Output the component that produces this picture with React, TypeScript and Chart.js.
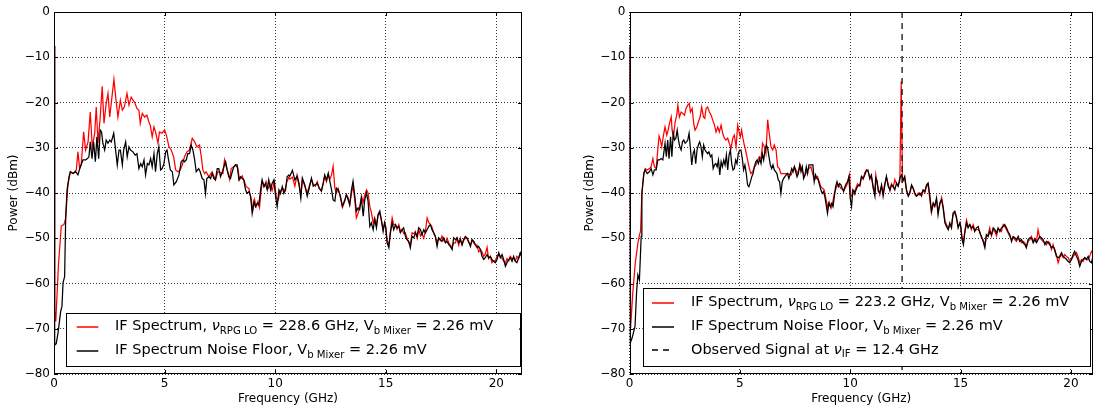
import React, { useEffect, useRef } from 'react';
import { Chart, registerables } from 'chart.js';

Chart.register(...registerables);

const FONT = '"DejaVu Sans", sans-serif';

// ---------------- DATA (frequency in GHz, power in dBm) ----------------
const xTicks = [0, 5, 10, 15, 20];
const yTicks = [-80, -70, -60, -50, -40, -30, -20, -10, 0];
const leftXMax = 21.16;
const rightXMax = 21.0;
const observedSignalFreq = 12.35;

const leftSignal: [number, number][] = [
  [0, -7.5], [0.03, -66], [0.08, -68.4], [0.2, -56], [0.33, -47.3], [0.45, -47], [0.53, -45.5], [0.63, -38.2], [0.74, -35.3],
  [0.86, -35.7], [1.01, -34.9], [1.08, -30.9], [1.16, -34.6], [1.23, -33.8], [1.34, -26.5], [1.43, -30.5], [1.54, -28.7],
  [1.64, -22.1], [1.73, -29.8], [1.84, -26.8], [1.91, -21.0], [1.99, -29.0], [2.09, -23.2], [2.18, -16.4], [2.26, -24.6],
  [2.36, -20.2], [2.44, -18.0], [2.52, -23.2], [2.62, -18.8], [2.71, -14.9], [2.79, -18.8], [2.89, -23.2], [3.0, -19.5],
  [3.09, -21.7], [3.18, -21.0], [3.3, -18.0], [3.39, -20.6], [3.49, -18.8], [3.57, -19.5], [3.64, -19.9], [3.75, -21.3],
  [3.84, -21.7], [3.9, -24.6], [3.99, -22.4], [4.1, -23.2], [4.2, -22.8], [4.29, -24.3], [4.35, -25.0], [4.44, -27.6],
  [4.52, -25.4], [4.59, -26.5], [4.7, -29.0], [4.77, -26.5], [4.88, -26.8], [5.0, -26.1], [5.08, -27.2], [5.2, -29.8],
  [5.3, -30.5], [5.41, -32.0], [5.5, -34.9], [5.6, -35.3], [5.71, -34.9], [5.8, -33.8], [5.9, -32.0], [6.01, -30.9],
  [6.13, -30.5], [6.25, -27.9], [6.36, -28.7], [6.46, -29.8], [6.58, -29.4], [6.66, -32.0], [6.73, -34.9], [6.81, -35.7],
  [6.88, -35.3], [7.0, -36.4], [7.15, -35.3], [7.3, -37.1], [7.41, -35.3], [7.53, -35.5], [7.64, -35.7], [7.71, -32.7],
  [7.83, -34.9], [7.94, -37.0], [8.01, -34.6], [8.13, -34.2], [8.21, -33.8], [8.31, -34.5], [8.39, -37.1], [8.51, -36.2],
  [8.61, -37.5], [8.69, -38.6], [8.81, -39.0], [8.92, -41.5], [8.99, -43.8], [9.07, -41.5], [9.14, -43.0], [9.22, -41.9],
  [9.29, -43.2], [9.41, -37.5], [9.52, -38.5], [9.59, -37.5], [9.68, -39.0], [9.77, -38.0], [9.86, -39.5], [9.97, -37.5],
  [10.05, -41.0], [10.14, -41.5], [10.23, -39.5], [10.35, -39.0], [10.44, -39.5], [10.53, -37.5], [10.62, -36.5],
  [10.66, -36.9], [10.78, -36.5], [10.89, -38.5], [10.99, -36.0], [11.08, -37.8], [11.16, -40.5], [11.23, -37.0],
  [11.34, -38.5], [11.45, -40.0], [11.54, -38.5], [11.64, -37.0], [11.72, -38.0], [11.82, -38.5], [11.9, -37.5],
  [11.99, -39.0], [12.09, -39.5], [12.17, -38.0], [12.24, -36.3], [12.32, -37.5], [12.4, -36.0], [12.47, -37.0],
  [12.55, -36.0], [12.62, -34.1], [12.7, -39.0], [12.77, -40.0], [12.85, -39.0], [12.95, -41.0], [13.04, -43.2],
  [13.15, -41.8], [13.22, -40.4], [13.3, -41.0], [13.37, -42.6], [13.45, -40.0], [13.52, -38.5], [13.6, -41.5],
  [13.67, -45.5], [13.75, -44.5], [13.82, -43.0], [13.9, -40.7], [13.98, -42.0], [14.05, -40.5], [14.13, -39.3],
  [14.2, -40.0], [14.28, -43.0], [14.35, -44.3], [14.43, -46.6], [14.5, -45.5], [14.58, -47.0], [14.65, -45.0],
  [14.73, -44.5], [14.8, -46.0], [14.88, -48.0], [14.95, -46.5], [15.0, -47.5], [15.06, -50.5], [15.14, -51.5],
  [15.21, -48.5], [15.29, -45.5], [15.36, -47.0], [15.44, -47.0], [15.51, -48.0], [15.59, -47.0], [15.66, -48.5],
  [15.74, -48.0], [15.81, -49.0], [15.89, -48.8], [15.96, -50.0], [16.04, -51.0], [16.11, -51.5], [16.19, -48.8],
  [16.27, -49.0], [16.34, -48.5], [16.42, -50.0], [16.49, -48.0], [16.57, -49.5], [16.64, -49.0], [16.72, -50.0],
  [16.79, -48.5], [16.87, -45.5], [16.94, -46.5], [17.02, -47.0], [17.09, -47.5], [17.17, -49.0], [17.24, -49.5],
  [17.32, -51.0], [17.39, -50.0], [17.47, -50.5], [17.54, -49.5], [17.62, -50.5], [17.7, -51.0], [17.77, -50.0],
  [17.85, -51.0], [17.92, -51.5], [18.0, -52.0], [18.07, -51.0], [18.15, -51.0], [18.22, -50.0], [18.3, -51.5],
  [18.37, -50.0], [18.45, -51.5], [18.52, -50.5], [18.6, -50.0], [18.67, -50.0], [18.75, -51.0], [18.83, -51.5],
  [18.9, -50.5], [18.98, -51.0], [19.05, -51.5], [19.13, -51.5], [19.2, -53.0], [19.28, -52.5], [19.35, -53.0],
  [19.43, -54.0], [19.5, -53.5], [19.58, -52.0], [19.65, -54.5], [19.73, -54.0], [19.8, -55.4], [19.88, -55.0],
  [19.95, -55.0], [20.03, -54.0], [20.11, -53.5], [20.18, -54.0], [20.26, -54.5], [20.33, -55.0], [20.41, -55.5],
  [20.48, -54.5], [20.56, -55.0], [20.63, -54.0], [20.71, -54.5], [20.78, -54.5], [20.86, -55.0], [20.93, -54.0],
  [21.01, -54.5], [21.08, -53.5], [21.16, -53.5],
];

const leftNoise: [number, number][] = [
  [0, -7.5], [0.03, -73.6], [0.1, -73.3], [0.18, -71], [0.3, -66.2], [0.36, -65], [0.41, -59.8], [0.48, -58.5],
  [0.53, -45.2], [0.59, -39.3], [0.68, -36.4], [0.74, -35.3], [0.86, -35.7], [0.98, -35.3], [1.08, -36.0], [1.19, -34.2],
  [1.31, -32.7], [1.43, -32.7], [1.51, -32.4], [1.58, -32.0], [1.64, -28.7], [1.72, -32.4], [1.79, -28.7], [1.87, -33.1],
  [1.94, -27.6], [2.02, -32.4], [2.09, -26.1], [2.15, -26.5], [2.21, -29.0], [2.29, -30.5], [2.36, -28.3], [2.44, -29.0],
  [2.52, -28.3], [2.59, -28.7], [2.7, -26.8], [2.77, -29.8], [2.86, -33.8], [2.94, -30.5], [3.0, -30.5], [3.09, -33.8],
  [3.15, -30.5], [3.24, -28.7], [3.31, -32.0], [3.39, -29.8], [3.46, -30.5], [3.57, -30.9], [3.67, -31.6], [3.75, -31.3],
  [3.84, -34.6], [3.92, -33.5], [3.99, -34.2], [4.07, -32.7], [4.14, -36.0], [4.22, -33.5], [4.29, -33.8], [4.37, -32.4],
  [4.44, -34.2], [4.52, -31.3], [4.59, -35.3], [4.67, -31.3], [4.74, -29.8], [4.82, -34.9], [4.89, -34.6], [4.97, -33.5],
  [5.05, -30.9], [5.11, -30.5], [5.17, -32.4], [5.26, -34.9], [5.35, -35.3], [5.42, -38.2], [5.53, -37.5], [5.65, -36.0],
  [5.75, -33.1], [5.83, -32.7], [5.9, -33.1], [5.98, -32.7], [6.05, -31.3], [6.13, -31.3], [6.2, -29.4], [6.28, -30.5],
  [6.36, -32.7], [6.43, -35.3], [6.54, -34.6], [6.61, -35.3], [6.7, -36.8], [6.78, -37.1], [6.85, -40.1], [6.91, -36.8],
  [7.0, -36.4], [7.08, -36.8], [7.15, -35.7], [7.23, -36.8], [7.3, -37.1], [7.38, -34.6], [7.45, -34.6], [7.53, -36.4],
  [7.61, -35.3], [7.68, -34.2], [7.76, -33.1], [7.83, -34.9], [7.91, -36.4], [7.98, -36.8], [8.06, -35.3], [8.13, -34.2],
  [8.21, -33.8], [8.28, -33.8], [8.36, -37.1], [8.43, -36.4], [8.51, -36.8], [8.58, -37.1], [8.66, -39.3], [8.73, -40.1],
  [8.81, -39.7], [8.89, -40.8], [8.96, -44.5], [9.04, -41.9], [9.11, -43.0], [9.19, -42.3], [9.26, -42.7], [9.34, -39.3],
  [9.41, -37.1], [9.49, -38.6], [9.56, -37.9], [9.64, -39.3], [9.71, -37.1], [9.79, -39.3], [9.86, -37.9], [9.94, -37.1],
  [10.02, -40.8], [10.09, -43.0], [10.17, -39.3], [10.24, -40.1], [10.32, -38.6], [10.39, -40.1], [10.47, -39.3],
  [10.54, -36.4], [10.62, -36.0], [10.66, -36.3], [10.78, -35.0], [10.89, -37.1], [10.99, -36.3], [11.08, -38.2],
  [11.16, -41.1], [11.23, -36.7], [11.34, -38.2], [11.45, -40.7], [11.54, -38.9], [11.64, -36.7], [11.72, -38.5],
  [11.82, -38.2], [11.9, -37.8], [11.99, -38.9], [12.09, -39.6], [12.17, -37.8], [12.24, -36.0], [12.32, -37.1],
  [12.4, -35.6], [12.47, -37.4], [12.55, -39.3], [12.62, -41.5], [12.7, -41.8], [12.77, -38.9], [12.85, -39.3],
  [12.95, -40.7], [13.04, -42.9], [13.15, -41.5], [13.22, -40.4], [13.3, -41.5], [13.37, -42.6], [13.45, -39.3],
  [13.52, -37.4], [13.6, -40.7], [13.67, -44.0], [13.75, -43.3], [13.82, -43.7], [13.9, -41.1], [13.98, -45.1],
  [14.05, -41.5], [14.13, -40.0], [14.2, -41.8], [14.28, -47.4], [14.35, -46.6], [14.43, -48.1], [14.5, -45.9],
  [14.58, -47.7], [14.65, -44.8], [14.73, -44.0], [14.8, -45.9], [14.88, -48.5], [14.95, -46.6], [15.0, -47.7],
  [15.06, -51.0], [15.14, -52.1], [15.21, -48.8], [15.29, -46.6], [15.36, -48.1], [15.44, -47.0], [15.51, -47.7],
  [15.59, -47.4], [15.66, -48.8], [15.74, -48.1], [15.81, -47.7], [15.89, -49.6], [15.96, -50.3], [16.04, -50.7],
  [16.11, -52.1], [16.19, -49.6], [16.27, -49.9], [16.34, -48.8], [16.42, -49.6], [16.49, -47.7], [16.57, -48.1],
  [16.64, -49.2], [16.72, -48.1], [16.79, -48.8], [16.87, -48.1], [16.94, -47.4], [17.02, -47.0], [17.09, -48.1],
  [17.17, -48.8], [17.24, -49.6], [17.32, -51.8], [17.39, -49.9], [17.47, -50.3], [17.54, -50.7], [17.62, -49.9],
  [17.7, -51.0], [17.77, -50.7], [17.85, -51.4], [17.92, -51.8], [18.0, -52.5], [18.07, -49.9], [18.15, -50.3],
  [18.22, -49.9], [18.3, -51.0], [18.37, -50.3], [18.45, -51.4], [18.52, -50.3], [18.6, -49.6], [18.67, -49.9],
  [18.75, -50.7], [18.83, -51.8], [18.9, -50.3], [18.98, -50.7], [19.05, -51.4], [19.13, -52.1], [19.2, -51.8],
  [19.28, -52.5], [19.35, -54.0], [19.43, -54.7], [19.5, -54.3], [19.58, -53.6], [19.65, -54.3], [19.73, -54.0],
  [19.8, -54.7], [19.88, -55.1], [19.95, -55.4], [20.03, -54.7], [20.11, -53.2], [20.18, -54.3], [20.26, -53.6],
  [20.33, -54.7], [20.41, -56.2], [20.48, -55.4], [20.56, -54.7], [20.63, -54.3], [20.71, -55.1], [20.78, -54.0],
  [20.86, -55.1], [20.93, -55.4], [21.01, -54.3], [21.08, -53.2], [21.16, -54.3],
];

const rightSignal: [number, number][] = [
  [0, -7.5], [0.05, -69.8], [0.15, -62], [0.26, -55.5], [0.38, -51.1], [0.45, -49.3], [0.5, -48.5], [0.56, -40.1],
  [0.65, -35.7], [0.71, -34.6], [0.8, -34.9], [0.9, -34.6], [0.98, -34.2], [1.06, -32.4], [1.13, -34.2], [1.21, -34.6],
  [1.28, -30.5], [1.34, -27.4], [1.4, -28.3], [1.46, -29.8], [1.54, -27.2], [1.61, -25.4], [1.69, -27.2], [1.75, -26.1],
  [1.81, -24.6], [1.89, -23.2], [1.93, -26.1], [1.99, -27.6], [2.07, -24.3], [2.14, -22.8], [2.19, -20.6], [2.26, -23.2],
  [2.34, -22.1], [2.41, -22.4], [2.49, -22.8], [2.56, -21.3], [2.64, -20.6], [2.71, -20.2], [2.76, -22.1], [2.84, -21.3],
  [2.91, -24.6], [2.97, -26.1], [3.05, -25.4], [3.12, -24.3], [3.2, -23.2], [3.27, -21.0], [3.35, -23.2], [3.41, -23.5],
  [3.47, -21.3], [3.54, -21.0], [3.62, -22.1], [3.7, -22.8], [3.77, -23.9], [3.85, -25.0], [3.92, -26.5], [4.0, -25.4],
  [4.07, -26.5], [4.15, -25.0], [4.22, -26.8], [4.3, -27.9], [4.37, -28.3], [4.45, -27.9], [4.52, -29.0], [4.6, -30.1],
  [4.68, -27.9], [4.75, -27.2], [4.83, -29.8], [4.9, -25.0], [4.98, -26.8], [5.02, -27.6], [5.08, -26.1], [5.14, -27.9],
  [5.2, -29.4], [5.26, -30.5], [5.35, -32.7], [5.43, -34.6], [5.5, -35.7], [5.58, -35.3], [5.66, -34.2], [5.73, -33.8],
  [5.81, -32.7], [5.88, -32.0], [5.96, -32.4], [6.03, -29.0], [6.11, -29.8], [6.18, -31.3], [6.26, -23.8], [6.33, -26.8],
  [6.41, -29.8], [6.49, -30.5], [6.56, -29.4], [6.64, -30.5], [6.71, -34.2], [6.79, -34.6], [6.86, -35.7], [7.01, -35.7],
  [7.16, -35.7], [7.32, -36.0], [7.47, -34.2], [7.62, -35.7], [7.74, -33.8], [7.92, -36.4], [8.07, -34.9], [8.22, -34.2],
  [8.37, -37.1], [8.52, -36.4], [8.67, -38.6], [8.82, -39.3], [8.97, -43.0], [9.05, -42.0], [9.13, -43.4], [9.2, -42.3],
  [9.28, -40.1], [9.43, -37.9], [9.58, -39.0], [9.73, -39.3], [9.88, -37.9], [9.97, -36.0], [10.03, -40.8], [10.15, -40.1],
  [10.21, -39.5], [10.33, -38.0], [10.44, -38.5], [10.51, -36.5], [10.59, -37.0], [10.66, -35.5], [10.74, -35.0],
  [10.81, -34.9], [10.89, -37.0], [10.96, -36.5], [11.04, -38.5], [11.12, -39.5], [11.16, -36.0], [11.22, -38.0],
  [11.27, -39.0], [11.34, -40.4], [11.42, -38.5], [11.49, -40.0], [11.57, -37.8], [11.64, -36.5], [11.72, -38.0],
  [11.8, -39.5], [11.87, -38.0], [11.95, -38.8], [12.02, -37.0], [12.1, -38.0], [12.17, -38.5], [12.25, -37.3],
  [12.31, -15.3], [12.37, -37.5], [12.47, -36.8], [12.55, -39.5], [12.63, -40.4], [12.7, -40.0], [12.78, -38.5],
  [12.85, -39.0], [12.93, -40.3], [13.0, -40.7], [13.08, -40.0], [13.15, -40.4], [13.23, -40.0], [13.3, -39.5],
  [13.38, -40.0], [13.46, -38.5], [13.53, -38.2], [13.61, -41.5], [13.68, -44.4], [13.76, -42.5], [13.83, -43.0],
  [13.91, -41.5], [13.98, -44.0], [14.06, -42.6], [14.14, -41.0], [14.21, -43.0], [14.29, -46.0], [14.36, -47.0],
  [14.44, -47.7], [14.51, -47.4], [14.59, -47.0], [14.66, -44.8], [14.74, -44.4], [14.81, -45.5], [14.89, -47.4],
  [14.97, -46.6], [15.01, -47.7], [15.07, -50.0], [15.13, -51.0], [15.19, -48.5], [15.27, -46.0], [15.34, -47.4],
  [15.42, -47.0], [15.49, -48.1], [15.57, -47.0], [15.64, -48.1], [15.72, -48.1], [15.8, -48.1], [15.87, -48.5],
  [15.95, -50.0], [16.02, -50.3], [16.1, -51.4], [16.17, -49.5], [16.25, -49.2], [16.32, -47.7], [16.4, -49.5],
  [16.48, -48.1], [16.55, -48.5], [16.63, -49.5], [16.7, -48.0], [16.78, -48.1], [16.85, -48.5], [16.93, -47.0],
  [17.0, -47.4], [17.08, -48.1], [17.15, -48.8], [17.23, -49.6], [17.31, -50.3], [17.38, -49.9], [17.46, -50.3],
  [17.53, -50.7], [17.61, -50.0], [17.68, -50.3], [17.76, -51.0], [17.83, -50.7], [17.91, -51.0], [17.98, -51.8],
  [18.06, -50.7], [18.14, -50.3], [18.21, -49.6], [18.29, -50.7], [18.36, -50.0], [18.44, -50.7], [18.51, -48.1],
  [18.59, -50.0], [18.66, -50.3], [18.74, -50.7], [18.82, -51.0], [18.89, -51.4], [18.97, -50.7], [19.04, -51.0],
  [19.12, -52.5], [19.19, -51.4], [19.27, -52.9], [19.34, -53.6], [19.42, -55.4], [19.49, -54.3], [19.57, -53.6],
  [19.65, -54.3], [19.72, -53.6], [19.8, -54.0], [19.87, -54.3], [19.95, -55.0], [20.02, -54.7], [20.1, -54.0],
  [20.17, -53.6], [20.25, -53.2], [20.32, -54.0], [20.4, -55.4], [20.48, -54.7], [20.55, -55.1], [20.63, -54.3],
  [20.7, -54.7], [20.78, -54.7], [20.85, -54.0], [20.93, -52.9], [21.0, -53.5],
];

const rightNoise: [number, number][] = [
  [0, -7.5], [0.03, -73.2], [0.12, -72], [0.25, -69.5], [0.32, -62], [0.38, -58.1], [0.45, -59.2], [0.53, -49.6],
  [0.56, -40.1], [0.65, -35.7], [0.71, -34.9], [0.8, -35.7], [0.9, -35.3], [0.98, -34.6], [1.06, -36.0], [1.13, -34.9],
  [1.21, -34.9], [1.28, -32.7], [1.36, -32.7], [1.43, -32.4], [1.51, -32.7], [1.55, -31.3], [1.61, -29.0], [1.67, -32.0],
  [1.73, -28.3], [1.79, -32.4], [1.86, -27.6], [1.92, -32.0], [1.98, -26.8], [2.04, -28.3], [2.1, -27.9], [2.16, -26.1],
  [2.22, -28.3], [2.28, -29.8], [2.34, -30.5], [2.4, -28.7], [2.46, -28.3], [2.52, -29.0], [2.58, -28.7], [2.64, -28.3],
  [2.7, -26.8], [2.76, -30.1], [2.82, -33.8], [2.88, -31.3], [2.94, -30.5], [3.0, -33.5], [3.06, -30.5], [3.12, -29.4],
  [3.18, -28.7], [3.24, -29.8], [3.3, -32.0], [3.36, -29.4], [3.42, -30.5], [3.48, -30.9], [3.54, -31.3], [3.6, -30.9],
  [3.67, -32.0], [3.73, -31.6], [3.79, -34.6], [3.85, -33.8], [3.91, -33.5], [3.97, -34.2], [4.03, -32.7], [4.09, -36.0],
  [4.15, -33.1], [4.21, -34.2], [4.27, -32.7], [4.33, -33.8], [4.39, -31.6], [4.45, -34.9], [4.51, -31.6], [4.57, -30.5],
  [4.63, -33.5], [4.69, -34.9], [4.75, -34.6], [4.81, -32.7], [4.87, -33.5], [4.93, -31.3], [4.99, -30.5], [5.05, -30.5],
  [5.11, -32.4], [5.17, -34.9], [5.23, -33.8], [5.29, -35.7], [5.35, -38.2], [5.41, -38.6], [5.48, -37.5], [5.54, -36.4],
  [5.6, -35.7], [5.66, -34.2], [5.72, -33.1], [5.78, -32.7], [5.84, -33.5], [5.9, -32.4], [5.96, -33.5], [6.02, -31.3],
  [6.08, -32.7], [6.14, -30.5], [6.2, -29.4], [6.26, -30.1], [6.32, -32.0], [6.38, -33.8], [6.44, -34.6], [6.5, -33.8],
  [6.56, -34.9], [6.62, -35.3], [6.68, -35.7], [6.74, -37.1], [6.8, -37.5], [6.86, -40.1], [6.92, -37.5], [6.98, -36.8],
  [7.04, -36.4], [7.1, -36.0], [7.16, -35.7], [7.22, -36.8], [7.29, -35.7], [7.35, -34.6], [7.41, -35.3], [7.47, -34.2],
  [7.53, -35.3], [7.59, -36.4], [7.65, -35.7], [7.71, -33.8], [7.77, -35.3], [7.83, -34.2], [7.89, -36.8], [7.95, -36.0],
  [8.01, -34.2], [8.07, -35.7], [8.13, -33.8], [8.19, -33.8], [8.25, -33.8], [8.31, -33.8], [8.37, -37.5], [8.43, -36.0],
  [8.49, -36.8], [8.55, -37.1], [8.61, -38.2], [8.67, -39.3], [8.73, -40.1], [8.79, -39.7], [8.85, -40.8], [8.91, -42.6],
  [8.97, -44.5], [9.03, -42.3], [9.1, -43.0], [9.16, -42.3], [9.22, -43.0], [9.28, -40.8], [9.34, -38.6], [9.4, -37.5],
  [9.46, -38.6], [9.52, -37.9], [9.58, -38.2], [9.64, -39.0], [9.7, -39.7], [9.76, -38.6], [9.82, -37.9], [9.88, -37.5],
  [9.94, -36.4], [10.0, -41.2], [10.06, -43.0], [10.12, -39.3], [10.18, -39.7], [10.21, -40.0], [10.33, -38.5],
  [10.44, -38.2], [10.51, -36.3], [10.59, -36.7], [10.66, -36.0], [10.74, -34.9], [10.81, -35.2], [10.89, -36.7],
  [10.96, -36.0], [11.04, -38.9], [11.12, -40.7], [11.16, -36.7], [11.22, -37.4], [11.27, -39.6], [11.34, -40.0],
  [11.42, -38.2], [11.49, -40.7], [11.57, -38.2], [11.64, -36.3], [11.72, -38.5], [11.8, -39.3], [11.87, -38.2],
  [11.95, -38.5], [12.02, -39.3], [12.1, -37.8], [12.17, -38.5], [12.25, -36.7], [12.32, -36.0], [12.4, -37.1],
  [12.47, -36.3], [12.55, -39.3], [12.63, -40.7], [12.7, -40.0], [12.78, -38.2], [12.85, -38.9], [12.93, -40.0],
  [13.0, -40.7], [13.08, -40.4], [13.15, -40.0], [13.23, -40.7], [13.3, -39.3], [13.38, -39.6], [13.46, -38.2],
  [13.53, -37.8], [13.61, -40.7], [13.68, -44.0], [13.76, -42.2], [13.83, -42.9], [13.91, -41.1], [13.98, -44.8],
  [14.06, -42.2], [14.14, -41.5], [14.21, -43.3], [14.29, -46.6], [14.36, -47.4], [14.44, -48.1], [14.51, -46.6],
  [14.59, -47.7], [14.66, -44.4], [14.74, -44.0], [14.81, -45.2], [14.89, -47.7], [14.97, -46.6], [15.01, -47.4],
  [15.07, -50.3], [15.13, -51.4], [15.19, -48.8], [15.27, -46.6], [15.34, -47.7], [15.42, -47.0], [15.49, -47.7],
  [15.57, -47.4], [15.64, -48.5], [15.72, -47.7], [15.8, -47.4], [15.87, -48.8], [15.95, -49.6], [16.02, -50.7],
  [16.1, -52.1], [16.17, -49.2], [16.25, -49.6], [16.32, -48.5], [16.4, -49.2], [16.48, -47.7], [16.55, -48.1],
  [16.63, -48.8], [16.7, -47.7], [16.78, -48.5], [16.85, -47.7], [16.93, -47.4], [17.0, -47.0], [17.08, -47.7],
  [17.15, -48.5], [17.23, -49.2], [17.31, -50.7], [17.38, -49.6], [17.46, -49.9], [17.53, -50.3], [17.61, -49.6],
  [17.68, -50.7], [17.76, -50.3], [17.83, -51.0], [17.91, -51.4], [17.98, -52.1], [18.06, -50.3], [18.14, -49.9],
  [18.21, -49.9], [18.29, -51.0], [18.36, -50.3], [18.44, -51.0], [18.51, -50.3], [18.59, -49.6], [18.66, -49.9],
  [18.74, -50.3], [18.82, -51.4], [18.89, -50.7], [18.97, -51.0], [19.04, -51.4], [19.12, -52.1], [19.19, -51.8],
  [19.27, -52.5], [19.34, -54.0], [19.42, -54.3], [19.49, -54.0], [19.57, -53.2], [19.65, -54.0], [19.72, -54.3],
  [19.8, -54.7], [19.87, -55.1], [19.95, -55.4], [20.02, -54.7], [20.1, -53.6], [20.17, -52.9], [20.25, -54.0],
  [20.32, -54.7], [20.4, -56.2], [20.48, -55.1], [20.55, -54.7], [20.63, -54.3], [20.7, -54.7], [20.78, -54.0],
  [20.85, -55.1], [20.93, -55.4], [21.0, -54.0],
];

const observedLine: [number, number][] = [[observedSignalFreq, 0], [observedSignalFreq, -80]];

// Legend texts (segments: plain, italic 'i', subscript 's')
type Seg = { t: string; k?: 'i' | 's' };
const leftLegendSignal: Seg[] = [
  { t: 'IF Spectrum, ' }, { t: 'ν', k: 'i' }, { t: 'RPG LO', k: 's' }, { t: ' = 228.6 GHz, V' }, { t: 'b Mixer', k: 's' }, { t: ' = 2.26 mV' },
];
const rightLegendSignal: Seg[] = [
  { t: 'IF Spectrum, ' }, { t: 'ν', k: 'i' }, { t: 'RPG LO', k: 's' }, { t: ' = 223.2 GHz, V' }, { t: 'b Mixer', k: 's' }, { t: ' = 2.26 mV' },
];
const legendNoise: Seg[] = [
  { t: 'IF Spectrum Noise Floor, V' }, { t: 'b Mixer', k: 's' }, { t: ' = 2.26 mV' },
];
const legendObserved: Seg[] = [
  { t: 'Observed Signal at ' }, { t: 'ν', k: 'i' }, { t: 'IF', k: 's' }, { t: ' = 12.4 GHz' },
];

// ---------------- RENDERING ----------------
type LegendItem = { color: string; dash: number[]; segs: Seg[] };
type LegendSpec = {
  box: [number, number, number, number];
  rows: number[];
  sample: [number, number];
  textX: number;
  items: LegendItem[];
};

const LEGEND_SIZE = 14.5;
const LINE_W = 1.25;

function drawRich(ctx: CanvasRenderingContext2D, segs: Seg[], x: number, y: number, size: number) {
  let cx = x;
  ctx.textBaseline = 'middle';
  ctx.textAlign = 'left';
  ctx.fillStyle = '#000';
  for (const s of segs) {
    if (s.k === 's') {
      ctx.font = `${size * 0.7}px ${FONT}`;
      ctx.fillText(s.t, cx, y + size * 0.3);
    } else if (s.k === 'i') {
      ctx.font = `italic ${size}px ${FONT}`;
      ctx.fillText(s.t, cx, y);
    } else {
      ctx.font = `${size}px ${FONT}`;
      ctx.fillText(s.t, cx, y);
    }
    cx += ctx.measureText(s.t).width;
  }
}

function framePlugin(legend: LegendSpec) {
  return {
    id: 'frameAndLegend',
    afterDraw(chart: any) {
      const { ctx, chartArea: a, scales } = chart;
      ctx.save();
      ctx.strokeStyle = '#000';
      ctx.lineWidth = 1;
      ctx.setLineDash([]);
      ctx.beginPath();
      for (const t of scales.x.ticks) {
        const px = Math.round(scales.x.getPixelForValue(t.value)) + 0.5;
        ctx.moveTo(px, a.bottom); ctx.lineTo(px, a.bottom - 4);
        ctx.moveTo(px, a.top); ctx.lineTo(px, a.top + 4);
      }
      for (const t of scales.y.ticks) {
        const py = Math.round(scales.y.getPixelForValue(t.value)) + 0.5;
        ctx.moveTo(a.left, py); ctx.lineTo(a.left + 4, py);
        ctx.moveTo(a.right, py); ctx.lineTo(a.right - 4, py);
      }
      ctx.stroke();
      const l = Math.round(a.left) + 0.5, t = Math.round(a.top) + 0.5;
      const r = Math.round(a.right) - 0.5, b = Math.round(a.bottom) - 0.5;
      ctx.strokeRect(l, t, r - l, b - t);
      const [x0, y0, x1, y1] = legend.box;
      ctx.fillStyle = '#fff';
      ctx.fillRect(x0, y0, x1 - x0, y1 - y0);
      ctx.strokeRect(Math.round(x0) + 0.5, Math.round(y0) + 0.5, Math.round(x1 - x0), Math.round(y1 - y0));
      legend.items.forEach((it, i) => {
        const y = legend.rows[i];
        ctx.save();
        ctx.strokeStyle = it.color;
        ctx.lineWidth = 1.5;
        ctx.setLineDash(it.dash);
        ctx.beginPath();
        ctx.moveTo(legend.sample[0], Math.round(y));
        ctx.lineTo(legend.sample[1], Math.round(y));
        ctx.stroke();
        ctx.restore();
        drawRich(ctx, it.segs, legend.textX, y, LEGEND_SIZE);
      });
      ctx.restore();
    },
  };
}

const fmtTick = (v: number) => (v < 0 ? '\u2212' + Math.abs(v) : String(v));

function makeConfig(datasets: any[], xMax: number, padLeft: number, padRight: number, legend: LegendSpec): any {
  const tickFont = { family: FONT, size: 12 };
  return {
    type: 'line',
    data: { datasets },
    options: {
      animation: false,
      responsive: false,
      devicePixelRatio: 1,
      layout: { padding: { left: padLeft, right: padRight, top: 12, bottom: 0 } },
      plugins: { legend: { display: false }, tooltip: { enabled: false } },
      elements: { point: { radius: 0 }, line: { tension: 0 } },
      scales: {
        x: {
          type: 'linear',
          min: 0,
          max: xMax,
          afterBuildTicks: (s: any) => { s.ticks = xTicks.map((v) => ({ value: v })); },
          afterFit: (s: any) => { s.height = 33; },
          grid: { color: '#333', lineWidth: 1, drawTicks: false },
          border: { display: false, dash: [1, 2] },
          ticks: { padding: 3, color: '#000', font: tickFont, maxRotation: 0, autoSkip: false, callback: (v: any) => fmtTick(Number(v)) },
          title: { display: true, text: 'Frequency (GHz)', color: '#000', font: tickFont, padding: { top: 0, bottom: 1 } },
        },
        y: {
          type: 'linear',
          min: -80,
          max: 0,
          afterBuildTicks: (s: any) => { s.ticks = yTicks.map((v) => ({ value: v })); },
          afterFit: (s: any) => { s.width = 54; },
          grid: { color: '#333', lineWidth: 1, drawTicks: false },
          border: { display: false, dash: [1, 2] },
          ticks: { padding: 4, color: '#000', font: tickFont, autoSkip: false, callback: (v: any) => fmtTick(Number(v)) },
          title: { display: true, text: 'Power (dBm)', color: '#000', font: tickFont, padding: { top: 7, bottom: 0 } },
        },
      },
    },
    plugins: [framePlugin(legend)],
  };
}

const toPts = (arr: [number, number][]) => arr.map(([x, y]) => ({ x, y }));

const lineDs = (arr: [number, number][], color: string, dash: number[] = [], width = LINE_W) => ({
  data: toPts(arr),
  borderColor: color,
  borderWidth: width,
  borderDash: dash,
  pointRadius: 0,
  fill: false,
});

export default function App() {
  const leftRef = useRef<HTMLCanvasElement>(null);
  const rightRef = useRef<HTMLCanvasElement>(null);

  useEffect(() => {
    Chart.defaults.font.family = FONT;
    const left = new Chart(
      leftRef.current as HTMLCanvasElement,
      makeConfig(
        [lineDs(leftNoise, '#000000'), lineDs(leftSignal, '#ff0000')],
        leftXMax, 0, 25,
        {
          box: [65.7, 313.3, 519.3, 366.7],
          rows: [326.7, 350.7],
          sample: [76.7, 98.3],
          textX: 115,
          items: [
            { color: '#ff0000', dash: [], segs: leftLegendSignal },
            { color: '#000000', dash: [], segs: legendNoise },
          ],
        },
      ),
    );
    const right = new Chart(
      rightRef.current as HTMLCanvasElement,
      makeConfig(
        [lineDs(observedLine, '#111111', [6, 5], 1.3), lineDs(rightNoise, '#000000'), lineDs(rightSignal, '#ff0000')],
        rightXMax, 28.5, 1,
        {
          box: [95.7, 288.3, 543, 366],
          rows: [302.7, 326.7, 350.3],
          sample: [105, 127],
          textX: 144,
          items: [
            { color: '#ff0000', dash: [], segs: rightLegendSignal },
            { color: '#000000', dash: [], segs: legendNoise },
            { color: '#000000', dash: [6, 5], segs: legendObserved },
          ],
        },
      ),
    );
    return () => { left.destroy(); right.destroy(); };
  }, []);

  return (
    <div style={{ position: 'fixed', left: 0, top: 0, width: 1094, height: 407, background: '#fff' }}>
      <canvas ref={leftRef} width={547} height={407} style={{ position: 'absolute', left: 0, top: 0, width: 547, height: 407 }} />
      <canvas ref={rightRef} width={547} height={407} style={{ position: 'absolute', left: 547, top: 0, width: 547, height: 407 }} />
    </div>
  );
}
